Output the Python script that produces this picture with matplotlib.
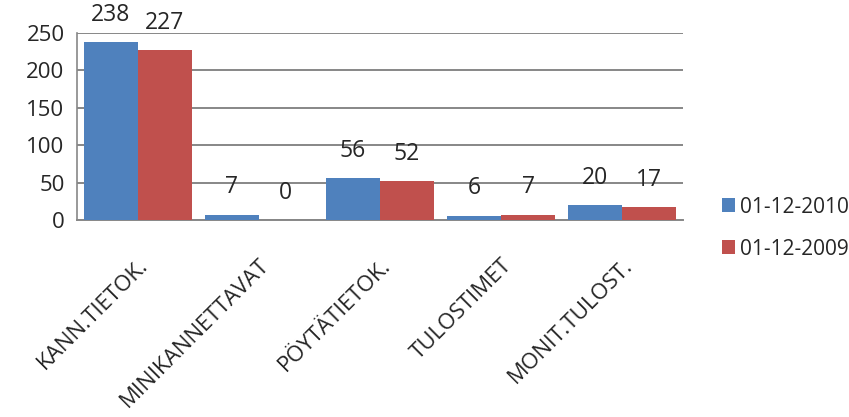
import numpy as np
from matplotlib import pyplot as plt

categories = ['KANN.TIETOK.', 'MINIKANNETTAVAT', 'PÖYTÄTIETOK.', 'TULOSTIMET', 'MONIT.TULOST.']
series_names = ['01-12-2010', '01-12-2009']
values_2010 = [238, 7, 56, 6, 20]
values_2009 = [227, 0, 52, 7, 17]

plt.rcParams['font.family'] = ['Open Sans', 'DejaVu Sans']

fig = plt.figure(figsize=(8.49, 4.17), dpi=100)
ax = fig.add_axes([0.0907, 0.4724, 0.7138, 0.4485])

x = np.arange(len(categories))
w = 0.445
b1 = ax.bar(x - w / 2, values_2010, w, color='#4F81BD', label=series_names[0], zorder=3)
b2 = ax.bar(x + w / 2, values_2009, w, color='#C0504D', label=series_names[1], zorder=3)

for bars in (b1, b2):
    for r in bars:
        ax.annotate(str(int(r.get_height())), (r.get_x() + r.get_width() / 2, r.get_height()),
                    xytext=(0, 11), textcoords='offset points', ha='center', va='bottom',
                    fontsize=16.5, color='#262626', annotation_clip=False)

ax.set_xlim(-0.5, len(categories) - 0.5)
ax.set_ylim(0, 250)
ax.set_yticks([0, 50, 100, 150, 200, 250])
ax.yaxis.grid(True, color='#878787', linewidth=1.4, zorder=0)
ax.set_axisbelow(True)

for s in ['top', 'right']:
    ax.spines[s].set_visible(False)
ax.spines['left'].set_color('#878787')
ax.spines['bottom'].set_color('#878787')
ax.spines['left'].set_linewidth(1.2)
ax.spines['bottom'].set_linewidth(1.4)

ax.tick_params(axis='y', length=0, labelsize=16, labelcolor='#262626', pad=9)
ax.tick_params(axis='x', length=0, labelsize=16, labelcolor='#262626', pad=25)
ax.set_xticks(x)
ax.set_xticklabels(categories, rotation=45, ha='right', rotation_mode='anchor')

fig.legend(handles=[b1, b2], loc='center left', bbox_to_anchor=(0.85, 0.453),
           frameon=False, fontsize=15, handlelength=0.65, handleheight=0.65,
           handletextpad=0.25, labelspacing=1.0, labelcolor='#262626',
           borderaxespad=0, borderpad=0)

fig.savefig('out.png', dpi=100)
